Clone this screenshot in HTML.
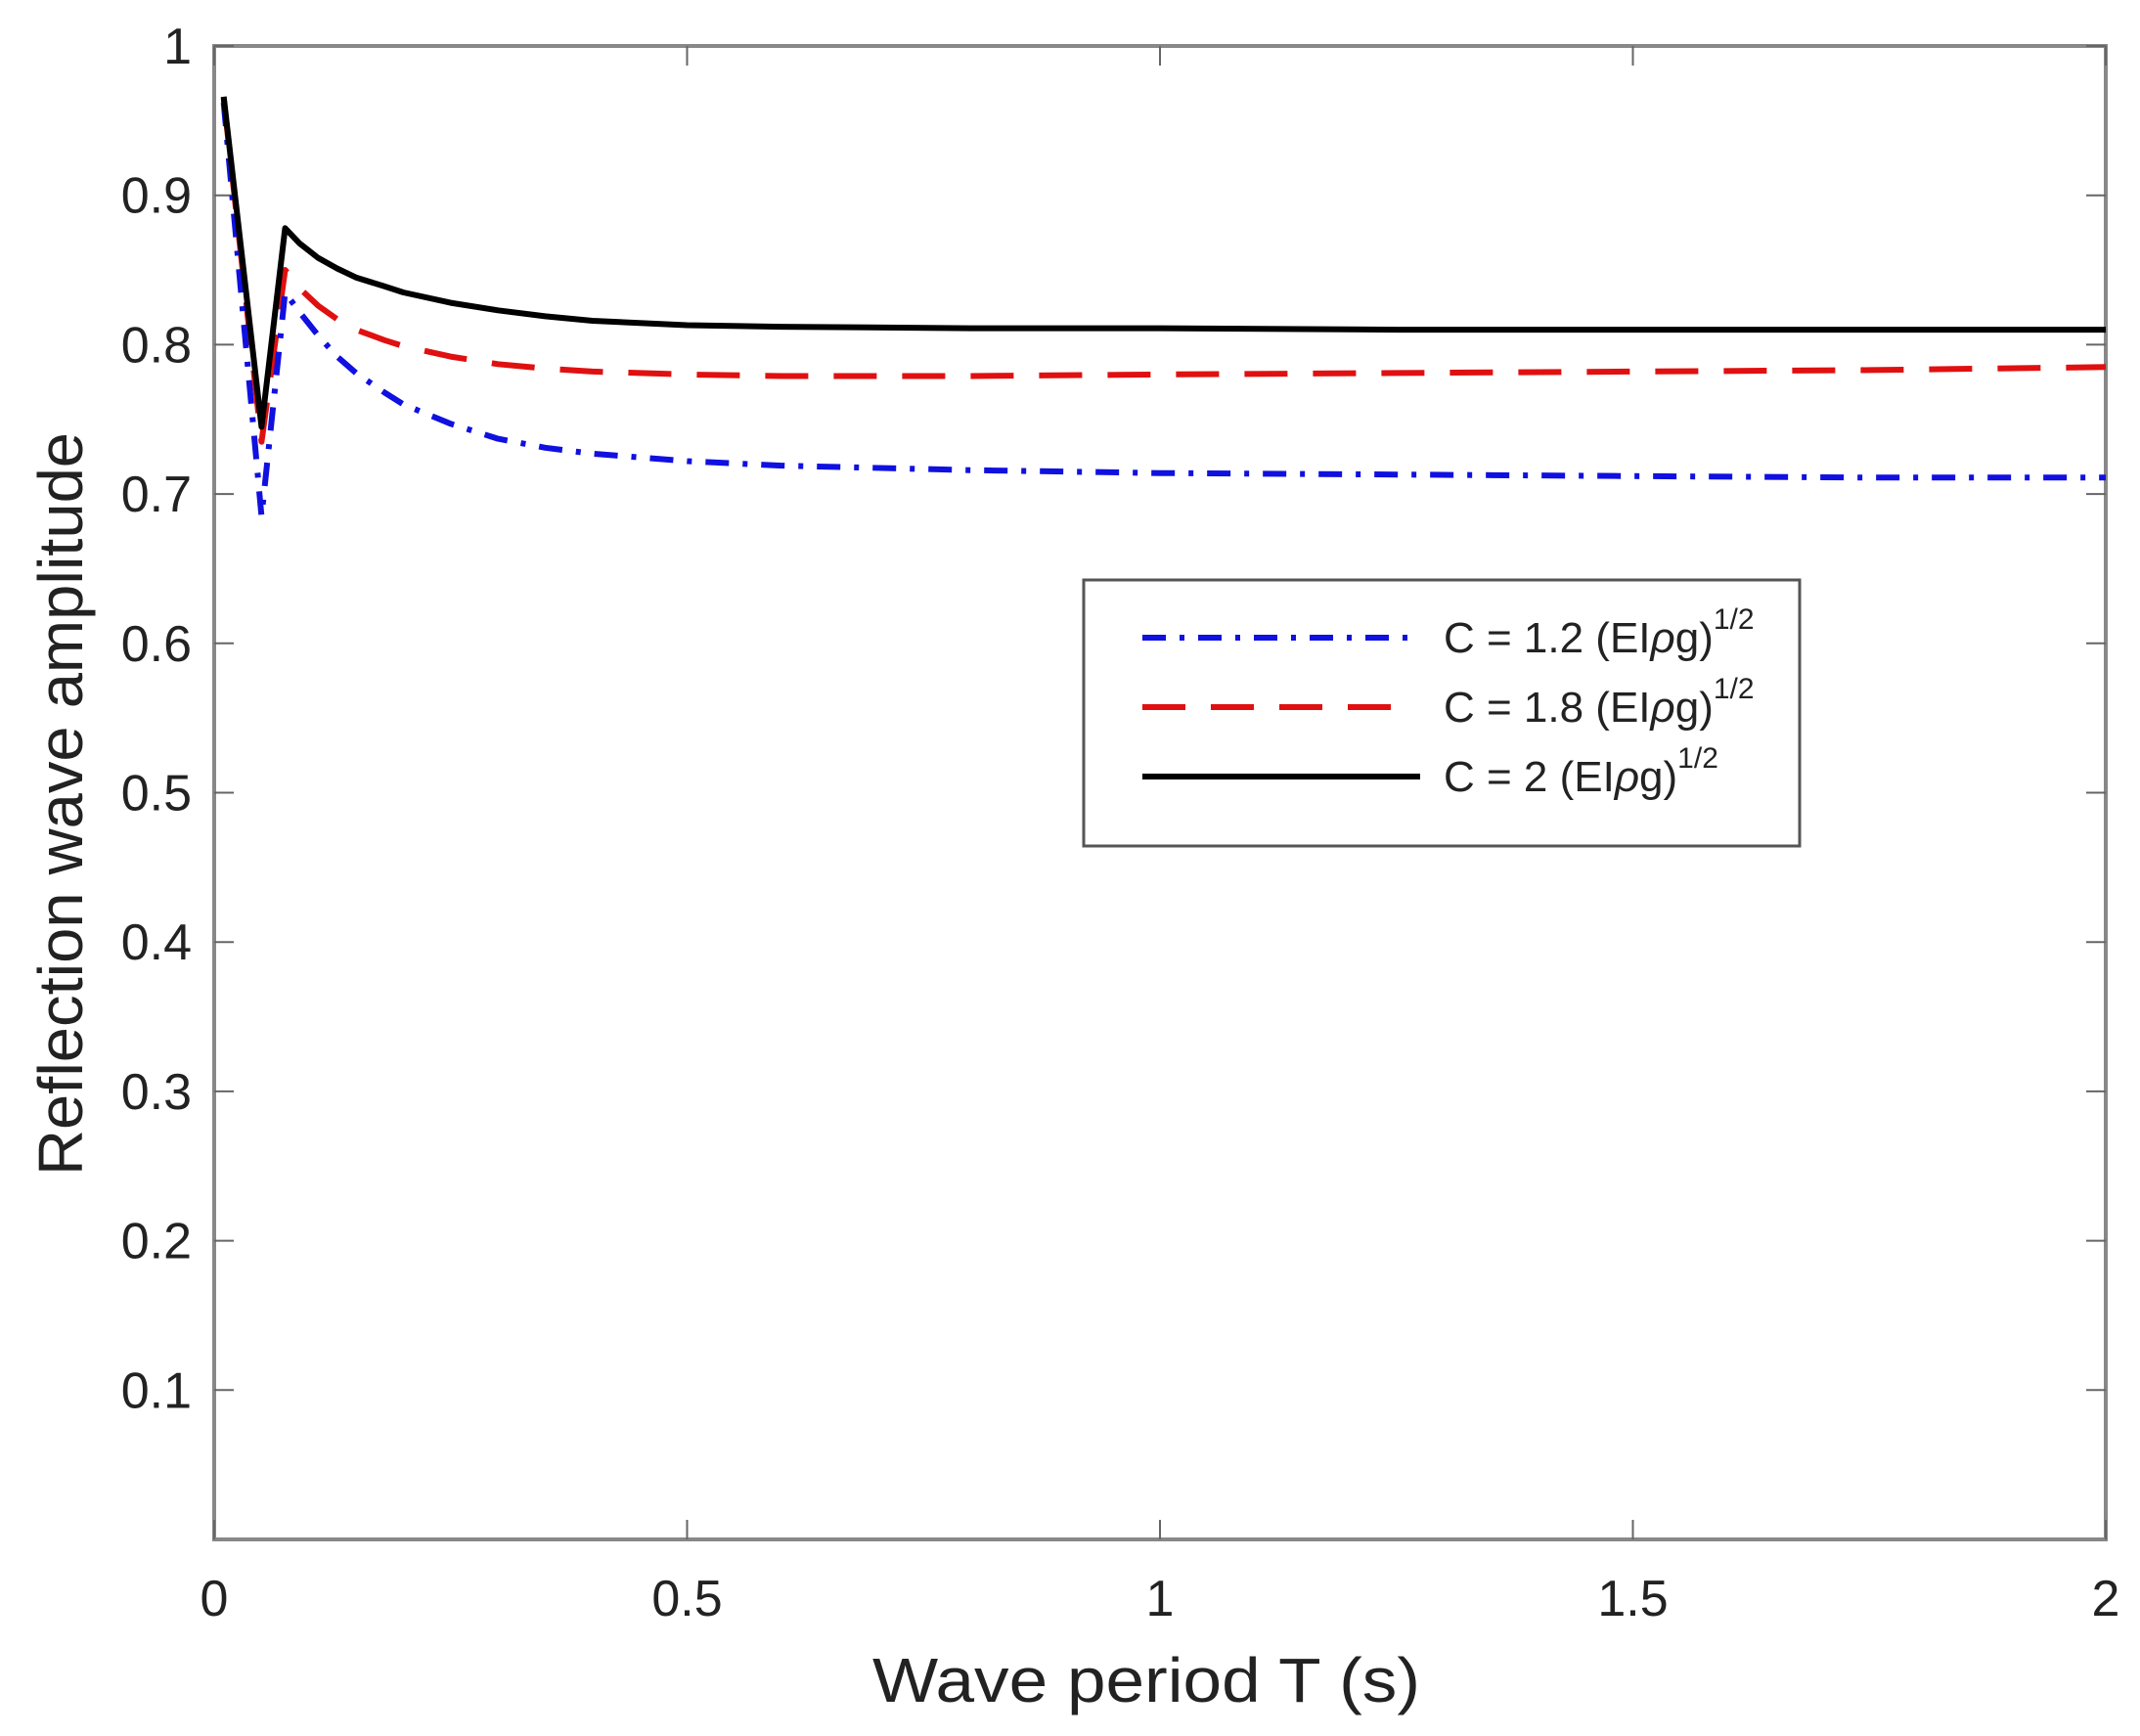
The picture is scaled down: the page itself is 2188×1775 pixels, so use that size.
<!DOCTYPE html>
<html><head><meta charset="utf-8"><style>
html,body{margin:0;padding:0;background:#fff}
svg{display:block;font-family:"Liberation Sans",sans-serif}
</style></head><body>
<svg id="chart" width="2188" height="1775" viewBox="0 0 2188 1775">
<g id="axes"></g>
<g id="series"></g>
<g>
<rect x="1108" y="593" width="732" height="272" fill="#fff" stroke="#555" stroke-width="3"/>
<line x1="1168" y1="652" x2="1444" y2="652" stroke="#1010e0" stroke-width="6" stroke-dasharray="24,14,5,14"/>
<line x1="1168" y1="723" x2="1428" y2="723" stroke="#e01010" stroke-width="6" stroke-dasharray="44,26"/>
<line x1="1168" y1="794" x2="1452" y2="794" stroke="#000" stroke-width="6"/>
<text x="1476" y="667" font-size="44" fill="#222">C = 1.2 (EI<tspan font-style="italic">ρ</tspan>g)<tspan font-size="30" dy="-24">1/2</tspan></text>
<text x="1476" y="738" font-size="44" fill="#222">C = 1.8 (EI<tspan font-style="italic">ρ</tspan>g)<tspan font-size="30" dy="-24">1/2</tspan></text>
<text x="1476" y="809" font-size="44" fill="#222">C = 2 (EI<tspan font-style="italic">ρ</tspan>g)<tspan font-size="30" dy="-24">1/2</tspan></text>
</g>
<text x="1172" y="1740" font-size="64" text-anchor="middle" fill="#222" textLength="560" lengthAdjust="spacingAndGlyphs">Wave period T (s)</text>
<text transform="translate(84,822) rotate(-90)" font-size="64" text-anchor="middle" fill="#222" textLength="760" lengthAdjust="spacingAndGlyphs">Reflection wave amplitude</text>
</svg>
<script>
const xTicks=[0,0.5,1,1.5,2];
const xTickLabels=["0","0.5","1","1.5","2"];
const yTicks=[0.1,0.2,0.3,0.4,0.5,0.6,0.7,0.8,0.9,1];
const yTickLabels=["0.1","0.2","0.3","0.4","0.5","0.6","0.7","0.8","0.9","1"];
const tValues=[0.01,0.05,0.075,0.09,0.11,0.13,0.15,0.18,0.2,0.25,0.3,0.35,0.4,0.5,0.6,0.8,1,1.25,1.5,1.75,2];
const blueValues=[0.962,0.685,0.835,0.822,0.806,0.792,0.781,0.768,0.76,0.747,0.737,0.731,0.727,0.722,0.719,0.716,0.714,0.713,0.712,0.711,0.711];
const redValues=[0.965,0.735,0.85,0.838,0.826,0.817,0.81,0.803,0.799,0.792,0.787,0.784,0.782,0.780,0.779,0.779,0.780,0.781,0.782,0.783,0.785];
const blackValues=[0.966,0.745,0.878,0.868,0.858,0.851,0.845,0.839,0.835,0.828,0.823,0.819,0.816,0.813,0.812,0.811,0.811,0.810,0.810,0.810,0.810];
const L=219,R=2153,T=47,B=1574;
const sx=v=>L+(v-0)/(2-0)*(R-L);
const sy=v=>B-(v-0)/(1-0)*(B-T);
const NS="http://www.w3.org/2000/svg";
const ax=document.getElementById('axes');
function mk(tag,attrs,parent){const e=document.createElementNS(NS,tag);for(const k in attrs)e.setAttribute(k,attrs[k]);parent.appendChild(e);return e;}
const frame=mk('rect',{x:L,y:T,width:R-L,height:B-T,fill:'none',stroke:'#888','stroke-width':4},ax);


xTicks.forEach((v,i)=>{
 const t1=mk('line',{x1:sx(v),x2:sx(v),y1:B,y2:B-20,stroke:'#666','stroke-width':2},ax);
 
 
 const t2=mk('line',{x1:sx(v),x2:sx(v),y1:T,y2:T+20,stroke:'#666','stroke-width':2},ax);
 
 
 const tx=mk('text',{x:sx(v),y:1652,'font-size':52,'text-anchor':'middle',fill:'#222'},ax);
 tx.textContent=xTickLabels[i];
 
 
});
yTicks.forEach((v,i)=>{
 const t1=mk('line',{x1:L,x2:L+20,y1:sy(v),y2:sy(v),stroke:'#666','stroke-width':2},ax);
 
 
 const t2=mk('line',{x1:R,x2:R-20,y1:sy(v),y2:sy(v),stroke:'#666','stroke-width':2},ax);
 
 
 const tx=mk('text',{x:196,y:sy(v)+18,'font-size':52,'text-anchor':'end',fill:'#222'},ax);
 tx.textContent=yTickLabels[i];
 
 
});
const sg=document.getElementById('series');
function line(vals,color,dash,name){
 const d=vals.map((v,i)=>(i?'L':'M')+sx(tValues[i]).toFixed(1)+' '+sy(v).toFixed(1)).join(' ');
 const p=mk('path',{d:d,fill:'none',stroke:color,'stroke-width':6,'stroke-dasharray':dash,'stroke-linejoin':'round'},sg);
 
 
}
line(redValues,'#e01010','44,26','series-c-1-8');
line(blueValues,'#1010e0','24,14,5,14','series-c-1-2');
line(blackValues,'#000','none','series-c-2');
</script>
</body></html>
